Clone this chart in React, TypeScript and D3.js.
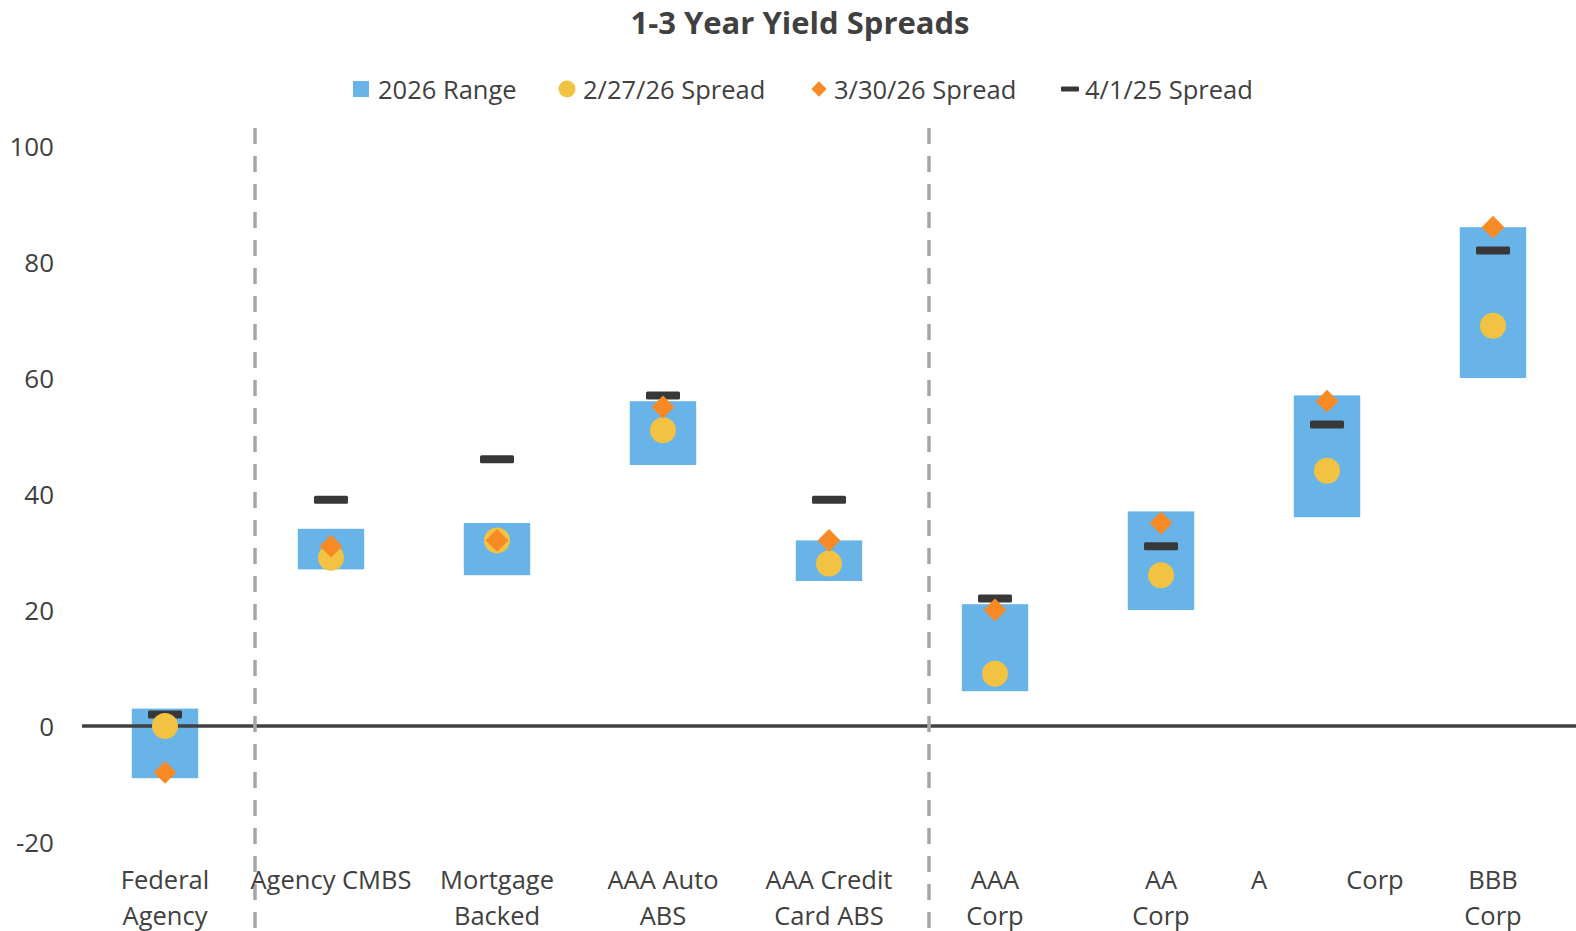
import React from "react";
import * as d3 from "d3";

const categories = ["Federal Agency", "Agency CMBS", "Mortgage Backed", "AAA Auto ABS", "AAA Credit Card ABS", "AAA Corp", "AA Corp", "A Corp", "BBB Corp"];
const labelLines: string[][] = [["Federal", "Agency"], ["Agency CMBS"], ["Mortgage", "Backed"], ["AAA Auto", "ABS"], ["AAA Credit", "Card ABS"], ["AAA", "Corp"], ["AA", "Corp"], ["A|Corp"], ["BBB", "Corp"]];
const rangeLow = [-9, 27, 26, 45, 25, 6, 20, 36, 60];
const rangeHigh = [3, 34, 35, 56, 32, 21, 37, 57, 86];
const spreadFeb = [0, 29, 32, 51, 28, 9, 26, 44, 69];
const spreadMar = [-8, 31, 32, 55, 32, 20, 35, 56, 86];
const spreadApr25 = [2, 39, 46, 57, 39, 22, 31, 52, 82];
const yTicks = [-20, 0, 20, 40, 60, 80, 100];
const dividerAfter = [0, 4];
const dividerNudge = [7, 17];
const legendItems = ["2026 Range", "2/27/26 Spread", "3/30/26 Spread", "4/1/25 Spread"];

const W = 1576, H = 931;
const FONT = "'Open Sans', sans-serif";
const TXT = "#404040";
const BLUE = "#68B3E8";
const YELLOW = "#F2C343";
const ORANGE = "#F78A24";
const DARK = "#383838";
const FS = 25.5;

export default function App() {
  const x = d3.scaleBand<string>().domain(categories).range([82, 1576]).paddingInner(0).paddingOuter(0);
  const y = d3.scaleLinear().domain([-20, 100]).range([842, 146]);
  const bw = x.bandwidth();
  const barW = bw * 0.4;
  const cx = (i: number) => (x(categories[i]) as number) + bw / 2;
  const diamond = d3.symbol().type(d3.symbolDiamond2).size(330)();

  const legendX = [356, 567, 819, 1070];
  const legendTextX = [378, 583, 834, 1085];
  const ly = 89;

  return (
    <svg width={W} height={H} style={{ position: "absolute", left: 0, top: 0, background: "#fff" }} fontFamily={FONT}>
      <text x={800} y={22} textAnchor="middle" dominantBaseline="central" fontSize={31} fontWeight={700} fill={TXT}>1-3 Year Yield Spreads</text>

      {/* legend */}
      <rect x={legendX[0] - 3} y={ly - 8} width={16} height={16} fill={BLUE} />
      <circle cx={legendX[1]} cy={ly} r={8.5} fill={YELLOW} />
      <path d={d3.symbol().type(d3.symbolDiamond2).size(150)() as string} transform={`translate(${legendX[2]},${ly})`} fill={ORANGE} />
      <rect x={legendX[3] - 9} y={ly - 2.5} width={18} height={5} rx={1} fill={DARK} />
      {legendItems.map((t, i) => (
        <text key={t} x={legendTextX[i]} y={ly} dominantBaseline="central" fontSize={FS} fill={TXT}>{t}</text>
      ))}

      {/* y axis labels */}
      {yTicks.map((t) => (
        <text key={t} x={54} y={y(t)} textAnchor="end" dominantBaseline="central" fontSize={FS + 0.5} fill={TXT}>{t}</text>
      ))}

      {/* range bars */}
      {categories.map((c, i) => (
        <rect key={c} x={cx(i) - barW / 2} y={y(rangeHigh[i])} width={barW} height={y(rangeLow[i]) - y(rangeHigh[i])} fill={BLUE} />
      ))}

      {/* zero line */}
      <line x1={82} x2={1576} y1={y(0)} y2={y(0)} stroke="#404040" strokeWidth={3.5} />

      {/* dividers */}
      {dividerAfter.map((d, k) => {
        const xx = (x(categories[d]) as number) + bw + dividerNudge[k];
        return <line key={d} x1={xx} x2={xx} y1={128} y2={931} stroke="#A6A6A6" strokeWidth={3.5} strokeDasharray="16 12" />;
      })}

      {/* markers */}
      {categories.map((c, i) => (
        <g key={c}>
          <rect x={cx(i) - 17} y={y(spreadApr25[i]) - 4} width={34} height={8} rx={1.5} fill={DARK} />
          <circle cx={cx(i)} cy={y(spreadFeb[i])} r={13} fill={YELLOW} />
          <path d={diamond as string} transform={`translate(${cx(i)},${y(spreadMar[i])})`} fill={ORANGE} />
        </g>
      ))}

      {/* category labels */}
      {labelLines.map((lines, i) => {
        if (lines[0].includes("|")) {
          const [a, b] = lines[0].split("|");
          return (
            <g key={i}>
              <text x={cx(i) - 68} y={879} textAnchor="middle" dominantBaseline="central" fontSize={FS} fill={TXT}>{a}</text>
              <text x={cx(i) + 48} y={879} textAnchor="middle" dominantBaseline="central" fontSize={FS} fill={TXT}>{b}</text>
            </g>
          );
        }
        return lines.map((l, j) => (
          <text key={i + "-" + j} x={cx(i)} y={879 + j * 36} textAnchor="middle" dominantBaseline="central" fontSize={FS} fill={TXT}>{l}</text>
        ));
      })}
    </svg>
  );
}
